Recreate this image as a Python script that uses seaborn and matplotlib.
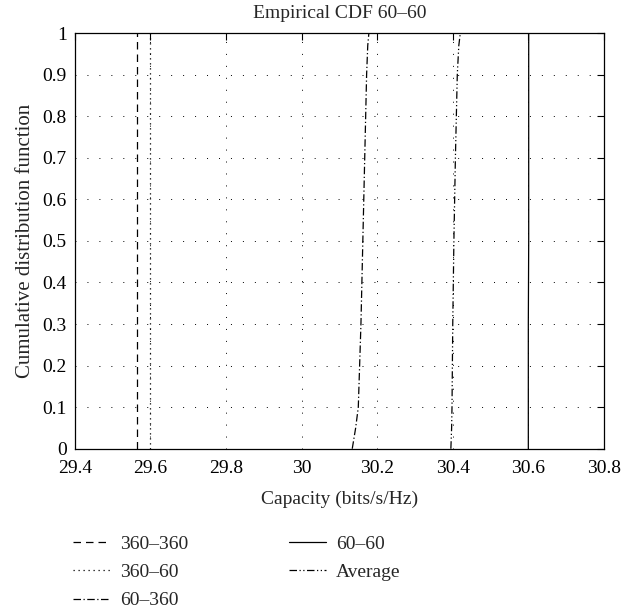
import pandas as pd
import matplotlib
matplotlib.use("Agg")
import matplotlib.pyplot as plt
import seaborn as sns

# CDF levels and capacity readings (bits/s/Hz) for each configuration
cdf_levels = [0.0, 0.05, 0.1, 0.3, 0.5, 0.7, 0.9, 0.97, 1.0]
cap_360_360 = [29.565, 29.565, 29.565, 29.565, 29.565, 29.565, 29.565, 29.565, 29.565]
cap_360_60 = [29.600, 29.600, 29.600, 29.600, 29.600, 29.600, 29.600, 29.600, 29.600]
cap_60_360 = [30.134, 30.143, 30.150, 30.157, 30.162, 30.167, 30.172, 30.175, 30.178]
cap_60_60 = [30.600, 30.600, 30.600, 30.600, 30.601, 30.601, 30.601, 30.601, 30.601]
cap_average = [30.395, 30.397, 30.398, 30.400, 30.403, 30.407, 30.412, 30.416, 30.420]

series_names = ["360\u2013360", "360\u201360", "60\u2013360", "60\u201360", "Average"]
series_caps = [cap_360_360, cap_360_60, cap_60_360, cap_60_60, cap_average]
line_styles = [(0, (6, 4)), (0, (1, 3)), (0, (6, 2, 1, 2)), "-", (0, (6, 2, 1, 2, 1, 2))]

x_ticks = [29.4, 29.6, 29.8, 30.0, 30.2, 30.4, 30.6, 30.8]
x_tick_labels = ["29.4", "29.6", "29.8", "30", "30.2", "30.4", "30.6", "30.8"]
y_ticks = [0, 0.1, 0.2, 0.3, 0.4, 0.5, 0.6, 0.7, 0.8, 0.9, 1]
y_tick_labels = ["0", "0.1", "0.2", "0.3", "0.4", "0.5", "0.6", "0.7", "0.8", "0.9", "1"]

rows = []
for name, caps in zip(series_names, series_caps):
    for c, p in zip(caps, cdf_levels):
        rows.append({"series": name, "capacity": c, "cdf": p})
df = pd.DataFrame(rows)

sns.set_style("white")
plt.rcParams["font.family"] = ["Liberation Serif", "DejaVu Serif"]
plt.rcParams["font.size"] = 14

fig = plt.figure(figsize=(6.35, 6.13), dpi=100)
ax = fig.add_axes([0.118, 0.268, 0.833, 0.678])

for name, ls in zip(series_names, line_styles):
    sub = df[df["series"] == name]
    sns.lineplot(data=sub, x="capacity", y="cdf", ax=ax, color="black",
                 linewidth=0.9, linestyle=ls, sort=False, estimator=None,
                 label=name)

ax.set_xlim(29.4, 30.8)
ax.set_ylim(0, 1)
ax.set_xticks(x_ticks)
ax.set_xticklabels(x_tick_labels)
ax.set_yticks(y_ticks)
ax.set_yticklabels(y_tick_labels)
ax.grid(True, color="black", linestyle=(0, (1, 11.3)), linewidth=0.7)
ax.tick_params(direction="in", length=5, width=0.8, top=True, right=True,
               labelsize=14, colors="black")
ax.tick_params(axis="x", pad=8)
ax.tick_params(axis="y", pad=6)
for sp in ax.spines.values():
    sp.set_color("black")
    sp.set_linewidth(0.9)

ax.set_title("Empirical CDF 60\u201360", fontsize=14, pad=11)
ax.set_xlabel("Capacity (bits/s/Hz)", fontsize=14, labelpad=10)
ax.set_ylabel("Cumulative distribution function", fontsize=15, labelpad=5)

handles, labels = ax.get_legend_handles_labels()
ax.legend(handles, labels, ncol=2, frameon=False, loc="upper left",
          bbox_to_anchor=(-0.036, -0.166), fontsize=14, handlelength=1.9,
          handletextpad=0.5, columnspacing=5.2, labelspacing=0.55)

plt.savefig("out.png", dpi=100)
